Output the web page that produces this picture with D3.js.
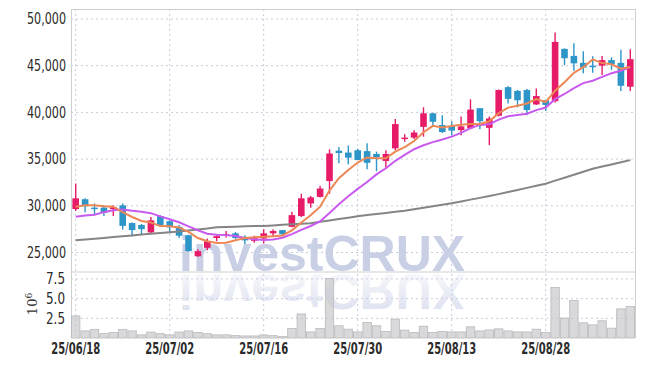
<!DOCTYPE html>
<html><head><meta charset="utf-8">
<script src="https://cdn.jsdelivr.net/npm/d3@7"></script>
<style>body{margin:0;background:#fff}svg{display:block}</style>
</head><body>
<svg id="c" width="645" height="366"></svg>
<script>
const dates = ["25/06/18","25/06/19","25/06/20","25/06/23","25/06/24","25/06/25","25/06/26","25/06/27","25/06/30",
"25/07/01","25/07/02","25/07/03","25/07/04","25/07/07","25/07/08","25/07/09","25/07/10","25/07/11","25/07/14","25/07/15",
"25/07/16","25/07/17","25/07/18","25/07/21","25/07/22","25/07/23","25/07/24","25/07/25","25/07/28","25/07/29","25/07/30","25/07/31",
"25/08/01","25/08/04","25/08/05","25/08/06","25/08/07","25/08/08","25/08/11","25/08/12","25/08/13","25/08/14","25/08/18","25/08/19",
"25/08/20","25/08/21","25/08/22","25/08/25","25/08/26","25/08/27","25/08/28","25/08/29",
"25/09/01","25/09/02","25/09/03","25/09/04","25/09/05","25/09/08","25/09/09","25/09/10"];
const open  = [29650,30700,29800,29800,29650,30050,28150,27950,27150,28900,28350,27750,26850,24600,25500,26550,26800,27050,26550,26250,
26500,27050,27400,27750,28900,30250,30950,32650,35900,35700,35950,35850,35550,34800,36150,37150,37300,38450,39900,38650,
38550,38100,38300,40450,38350,39650,42700,42300,42400,40850,41300,41200,46800,46050,45300,45000,45000,45600,45300,42750];
const high  = [32400,30800,30250,30050,30050,30250,28200,28050,28800,29000,28450,27950,26900,25350,26500,26950,27300,27200,26850,26800,
27500,27500,27400,29350,31300,31050,32150,36050,36300,36450,36100,36700,35800,35950,39300,37650,38100,40550,39950,39700,
39050,39550,41400,40450,39550,42450,42800,42400,42500,42550,41300,48550,46850,47400,46550,46000,46050,45900,46700,46750];
const low   = [29450,29300,29000,28900,28900,27450,26750,26950,27100,27750,27050,26550,25100,24550,25250,26200,26600,26450,25900,26050,
25950,26800,26800,27700,28800,29800,30900,31300,34550,34450,34900,33900,33700,34000,35950,36850,37150,37400,38450,37800,
37550,37550,38200,38200,36500,39550,40950,40550,39700,40800,40150,41050,45050,44450,44200,44250,44000,44550,42300,42300];
const close = [30800,29950,29650,29250,29850,27850,27400,27500,28450,27950,27700,26800,25150,25150,26200,26750,26950,26550,26300,26550,
27050,27300,26950,29000,30800,30900,31850,35600,35650,35150,34900,34600,35200,35550,38750,37300,37850,39900,39000,37900,
38050,38500,40300,39050,39350,42400,41450,41300,40250,41750,40800,47550,45800,45250,44800,44950,45600,45150,42850,45700];
const volume = [2.8,0.9,1.1,0.55,0.7,1.1,0.9,0.4,0.75,0.55,0.4,0.75,0.9,0.7,0.55,0.4,0.4,0.3,0.26,0.26,
0.39,0.3,0.17,1.2,3.05,0.77,1.2,7.56,1.55,1.12,0.77,1.97,1.55,0.82,2.4,1.0,0.69,1.5,0.69,0.82,
0.77,0.77,1.42,0.9,1.03,1.16,0.9,0.77,0.77,1.12,0.69,6.4,2.53,4.77,1.93,1.67,2.19,1.25,3.7,4.0];
const ma5 = [29900,30050,30050,29950,29900,29310,28800,28370,28210,27830,27800,27680,27210,26550,26200,26010,26040,26320,26550,26620,
26680,26750,26830,27370,28220,28990,29900,31630,32960,33830,34630,35180,35100,35080,35800,36280,36930,37870,38560,38390,
38540,38670,38750,38760,39050,39920,40510,40710,40950,41430,41110,42330,43230,44230,44840,45670,45280,45150,44670,44850];
const ma10 = [28840,28950,29050,29320,29530,29590,29480,29370,29210,28865,28555,28240,27790,27380,27015,26905,26860,26765,26550,26410,
26345,26395,26575,26960,27420,27835,28325,29230,30165,31025,31810,32540,33365,34020,34815,35455,36055,36485,36820,37095,
37410,37800,38310,38660,38720,39230,39590,39730,39855,40240,40515,41420,41970,42590,43135,43390,43805,44190,44450,44845];
const maLong = [26320,26400,26480,26560,26650,26740,26830,26920,27010,27090,27175,27260,27360,27450,27560,27700,27740,27770,27800,27830,
27850,27900,27960,28020,28080,28140,28280,28430,28580,28730,28890,29010,29120,29240,29360,29480,29640,29800,29960,30120,
30280,30470,30660,30850,31050,31250,31470,31690,31920,32150,32370,32690,33010,33330,33650,33970,34200,34430,34660,34890];
const priceTicks = [25000,30000,35000,40000,45000,50000];
const volTicks = [2.5,5.0,7.5];
const xTickIdx = [0,10,20,30,40,50];

const L=71, R=635, T=9, MID=272, B=338;
const upColor="#E61C68", downColor="#2E95C8";
const gridColor="#c9cbdc";
const font = "'Liberation Sans Narrow','DejaVu Sans Condensed','Arial Narrow',sans-serif";

const svg = d3.select("#c");
const x = d3.scaleBand().domain(dates).range([L,R]).padding(0);
const cx = d => x(d) + x.bandwidth()/2;
const y = d3.scaleLinear().domain([22912,51070]).range([MID,T]);
const yv = d3.scaleLinear().domain([0,8.38]).range([B,MID]);

// grid
const g = svg.append("g");
g.selectAll(".hg").data(priceTicks).join("line")
  .attr("x1",L).attr("x2",R).attr("y1",d=>y(d)).attr("y2",d=>y(d))
  .attr("stroke",gridColor).attr("stroke-dasharray","2,3");
g.selectAll(".vgl").data(volTicks).join("line")
  .attr("x1",L).attr("x2",R).attr("y1",d=>yv(d)).attr("y2",d=>yv(d))
  .attr("stroke",gridColor).attr("stroke-dasharray","2,3");
g.selectAll(".vg").data(xTickIdx).join("line")
  .attr("x1",i=>cx(dates[i])).attr("x2",i=>cx(dates[i])).attr("y1",T).attr("y2",B)
  .attr("stroke",gridColor).attr("stroke-dasharray","2,3");

// watermark
const defs = svg.append("defs");
const grad = defs.append("linearGradient").attr("id","fade").attr("x1",0).attr("y1",0).attr("x2",0).attr("y2",1);
grad.append("stop").attr("offset","0%").attr("stop-color","#cdd3e8").attr("stop-opacity",0.75);
grad.append("stop").attr("offset","100%").attr("stop-color","#cdd3e8").attr("stop-opacity",0.05);
const wmX=179, wmY=271;
svg.append("text").attr("x",wmX).attr("y",wmY).text("investCRUX")
  .attr("font-family","'Liberation Sans',Arial,sans-serif").attr("font-weight","bold")
  .attr("font-size",50).attr("fill","#c9d0e6");
svg.append("g").attr("transform",`translate(0,${2*wmY+3}) scale(1,-1)`)
  .append("text").attr("x",wmX).attr("y",wmY).text("investCRUX")
  .attr("font-family","'Liberation Sans',Arial,sans-serif").attr("font-weight","bold")
  .attr("font-size",50).attr("fill","url(#fade)");

// border
svg.append("line").attr("x1",L).attr("x2",R).attr("y1",T+0.5).attr("y2",T+0.5).attr("stroke","#cfcfcf");
svg.append("line").attr("x1",L).attr("x2",R).attr("y1",MID).attr("y2",MID).attr("stroke","#cfcfcf");
svg.append("line").attr("x1",L+0.5).attr("x2",L+0.5).attr("y1",T).attr("y2",B).attr("stroke","#cfcfcf");
svg.append("line").attr("x1",R+0.5).attr("x2",R+0.5).attr("y1",T).attr("y2",B).attr("stroke","#cfcfcf");

// volume bars
svg.append("g").selectAll("rect").data(volume).join("rect")
  .attr("x",(d,i)=>x(dates[i])+0.5).attr("width",x.bandwidth()-1)
  .attr("y",d=>yv(d)).attr("height",d=>B-yv(d))
  .attr("fill","rgba(196,196,200,0.65)").attr("stroke","#b9b9bd").attr("stroke-width",0.8);

// candles
const cg = svg.append("g");
dates.forEach((d,i)=>{
  const col = close[i]>=open[i]?upColor:downColor;
  cg.append("line").attr("x1",cx(d)).attr("x2",cx(d)).attr("y1",y(high[i])).attr("y2",y(low[i]))
    .attr("stroke",col).attr("stroke-width",1.4);
  const top=y(Math.max(open[i],close[i])), bot=y(Math.min(open[i],close[i]));
  cg.append("rect").attr("x",cx(d)-3.3).attr("width",6.6).attr("y",top).attr("height",Math.max(1.5,bot-top))
    .attr("fill",col);
});

// MA lines
const line = arr => d3.line().x((v,i)=>cx(dates[i])).y(v=>y(v))(arr);
svg.append("path").attr("d",line(maLong)).attr("fill","none").attr("stroke","#858585").attr("stroke-width",2);
svg.append("path").attr("d",line(ma10)).attr("fill","none").attr("stroke","#C95AEE").attr("stroke-width",2);
svg.append("path").attr("d",line(ma5)).attr("fill","none").attr("stroke","#EE8756").attr("stroke-width",2);

// axes labels
svg.append("g").selectAll("text").data(priceTicks).join("text")
  .attr("x",66).attr("y",d=>y(d)).attr("dy","0.36em").attr("text-anchor","end")
  .attr("font-family",font).attr("font-size",15).attr("fill","#2b2b2b")
  .attr("textLength",39).attr("lengthAdjust","spacingAndGlyphs").text(d3.format(","));
svg.append("g").selectAll("text").data(volTicks).join("text")
  .attr("x",65).attr("y",d=>yv(d)).attr("dy","0.36em").attr("text-anchor","end")
  .attr("font-family",font).attr("font-size",15).attr("fill","#2b2b2b")
  .attr("textLength",19).attr("lengthAdjust","spacingAndGlyphs").text(d3.format(".1f"));
svg.append("g").selectAll("text").data(xTickIdx).join("text")
  .attr("x",i=>cx(dates[i])).attr("y",354).attr("text-anchor","middle")
  .attr("font-family",font).attr("font-weight","bold").attr("font-size",15).attr("fill","#2b2b2b")
  .attr("textLength",49).attr("lengthAdjust","spacingAndGlyphs")
  .text(i=>dates[i]);
const ul = svg.append("text").attr("transform","translate(37,304) rotate(-90)")
  .attr("font-family","'DejaVu Serif',serif").attr("font-size",13).attr("fill","#333").attr("text-anchor","middle");
ul.append("tspan").text("10");
ul.append("tspan").attr("dy",-5).attr("font-size",9).text("6");
</script>
</body></html>
